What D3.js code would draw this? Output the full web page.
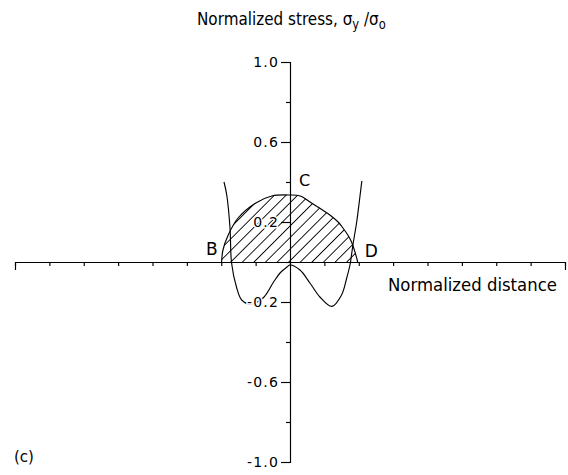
<!DOCTYPE html>
<html>
<head>
<meta charset="utf-8">
<script src="https://cdn.jsdelivr.net/npm/d3@7"></script>
<style>
  html, body { margin: 0; padding: 0; background: #fff; }
  svg { display: block; }
  text { font-family: "DejaVu Sans", "Liberation Sans", sans-serif; fill: #000; }
</style>
</head>
<body>
<svg id="chart" width="568" height="475"></svg>
<script>
// Unlabelled ticks along the normalized-distance axis
const distanceTicks = [-8, -7, -6, -5, -4, -3, -2, -1, 0, 1, 2, 3, 4, 5, 6, 7, 8];

// Labelled and unlabelled ticks on the normalized-stress axis
const stressTicksMajor = [1.0, 0.6, 0.2, -0.2, -0.6, -1.0];
const stressTickLabels = ["1.0", "0.6", "0.2", "-0.2", "-0.6", "-1.0"];
const stressTicksMinor = [0.8, 0.4, 0, -0.4, -0.8];

// Stress distribution across the section (sigma_y / sigma_0)
const profileX = [-1.92, -1.84, -1.745, -1.70, -1.55, -1.405, -1.16, -0.785, -0.495, -0.29, -0.087, 0,
                  0.29, 0.58, 0.87, 1.22, 1.50, 1.65, 1.745, 1.83, 1.94, 2.04, 2.09];
const profileY = [0.40, 0.335, 0.17, -0.005, -0.13, -0.19, -0.21, -0.18, -0.105, -0.055, -0.025, -0.015,
                  -0.04, -0.105, -0.175, -0.222, -0.165, -0.08, -0.015, 0.085, 0.20, 0.335, 0.405];

// Boundary of the hatched zone running from B through C to D
const zoneX = [-1.99, -1.95, -1.80, -1.51, -1.02, -0.53, 0, 0.30, 0.58, 0.90, 1.16, 1.40, 1.54, 1.70, 1.79, 1.89, 1.97];
const zoneY = [0, 0.06, 0.134, 0.22, 0.293, 0.33, 0.335, 0.33, 0.30, 0.265, 0.235, 0.20, 0.17, 0.13, 0.10, 0.05, 0];

const pointNames = ["B", "C", "D"];

const svg = d3.select("#chart");

const x = d3.scaleLinear().domain([-8, 8]).range([15, 565]);
const y = d3.scaleLinear().domain([-1, 1]).range([462, 62]);

// hatch pattern for the zone under the cap
const defs = svg.append("defs");
const pat = defs.append("pattern")
  .attr("id", "hatch")
  .attr("patternUnits", "userSpaceOnUse")
  .attr("width", 8.2).attr("height", 8.2)
  .attr("patternTransform", "rotate(45)");
pat.append("line")
  .attr("x1", 4.1).attr("y1", -1).attr("x2", 4.1).attr("y2", 9.2)
  .attr("stroke", "#000").attr("stroke-width", 0.9);

const zonePts = zoneX.map((v, i) => [v, zoneY[i]]);
const profilePts = profileX.map((v, i) => [v, profileY[i]]);

const smooth = d3.line()
  .x(d => x(d[0])).y(d => y(d[1]))
  .curve(d3.curveCatmullRom.alpha(0.5));

// hatched zone (closed along the distance axis)
svg.append("path")
  .attr("d", smooth(zonePts) + "Z")
  .attr("fill", "url(#hatch)")
  .attr("stroke", "none");

svg.append("path")
  .attr("d", smooth(zonePts))
  .attr("fill", "none")
  .attr("stroke", "#000")
  .attr("stroke-width", 1.15);

// stress profile
svg.append("path")
  .attr("d", smooth(profilePts))
  .attr("fill", "none")
  .attr("stroke", "#000")
  .attr("stroke-width", 1.15);

// horizontal axis (normalized distance)
const gx = svg.append("g")
  .attr("transform", `translate(0,${y(0)})`)
  .call(d3.axisBottom(x).tickValues(distanceTicks).tickSizeInner(4).tickSizeOuter(8).tickFormat(""));
gx.selectAll("path, line").attr("stroke", "#000").attr("stroke-width", 1.15);

// vertical axis (normalized stress)
const gyMinor = svg.append("g")
  .attr("transform", `translate(${x(0)},0)`)
  .call(d3.axisLeft(y).tickValues(stressTicksMinor).tickSize(4).tickFormat(""));
gyMinor.select(".domain").remove();
gyMinor.selectAll("line").attr("stroke", "#000").attr("stroke-width", 1.15);

const gy = svg.append("g")
  .attr("transform", `translate(${x(0)},0)`)
  .call(d3.axisLeft(y).tickValues(stressTicksMajor).tickSizeInner(9).tickSizeOuter(9).tickPadding(2)
    .tickFormat((d, i) => stressTickLabels[i]));
gy.selectAll("path, line").attr("stroke", "#000").attr("stroke-width", 1.15);
gy.selectAll("text")
  .attr("font-family", "DejaVu Sans, sans-serif")
  .attr("font-size", 14)
  .attr("letter-spacing", 1.2)
  .attr("fill", "#000")
  .attr("stroke", "#fff")
  .attr("stroke-width", 3)
  .attr("paint-order", "stroke");

// scale a text element horizontally so it spans x0..x1
function fitWidth(sel, x0, x1) {
  const b = sel.node().getBBox();
  const k = (x1 - x0) / b.width;
  sel.attr("transform", `translate(${x0},0) scale(${k},1) translate(${-b.x},0)`);
}

// title
const title = svg.append("text")
  .attr("x", 0).attr("y", 25)
  .attr("font-size", 18.5);
title.append("tspan").text("Normalized stress, σ");
title.append("tspan").attr("dy", 4).attr("font-size", 14).text("y");
title.append("tspan").attr("dy", -4).text(" /σ");
title.append("tspan").attr("dy", 4).attr("font-size", 14).text("o");
fitWidth(title, 197, 386);

// distance axis title
const xTitle = svg.append("text")
  .attr("x", 0).attr("y", 291)
  .attr("font-size", 18.5)
  .text("Normalized distance");
fitWidth(xTitle, 388, 557);

// B, C, D points on the zone boundary
const zoneStart = zonePts[0], zoneEnd = zonePts[zonePts.length - 1];
const zonePeak = zonePts[d3.maxIndex(zonePts, d => d[1])];
svg.append("text").attr("font-size", 17)
  .attr("x", x(zoneStart[0]) - 4).attr("y", y(zoneStart[1]) - 7)
  .attr("text-anchor", "end").text(pointNames[0]);
svg.append("text").attr("font-size", 16)
  .attr("x", x(zonePeak[0]) + 9).attr("y", y(zonePeak[1]) - 9)
  .text(pointNames[1]);
svg.append("text").attr("font-size", 17)
  .attr("x", x(zoneEnd[0]) + 7).attr("y", y(zoneEnd[1]) - 5)
  .text(pointNames[2]);

// panel tag
svg.append("text")
  .attr("x", 14).attr("y", 462)
  .attr("font-size", 15)
  .text("(c)");
</script>
</body>
</html>
